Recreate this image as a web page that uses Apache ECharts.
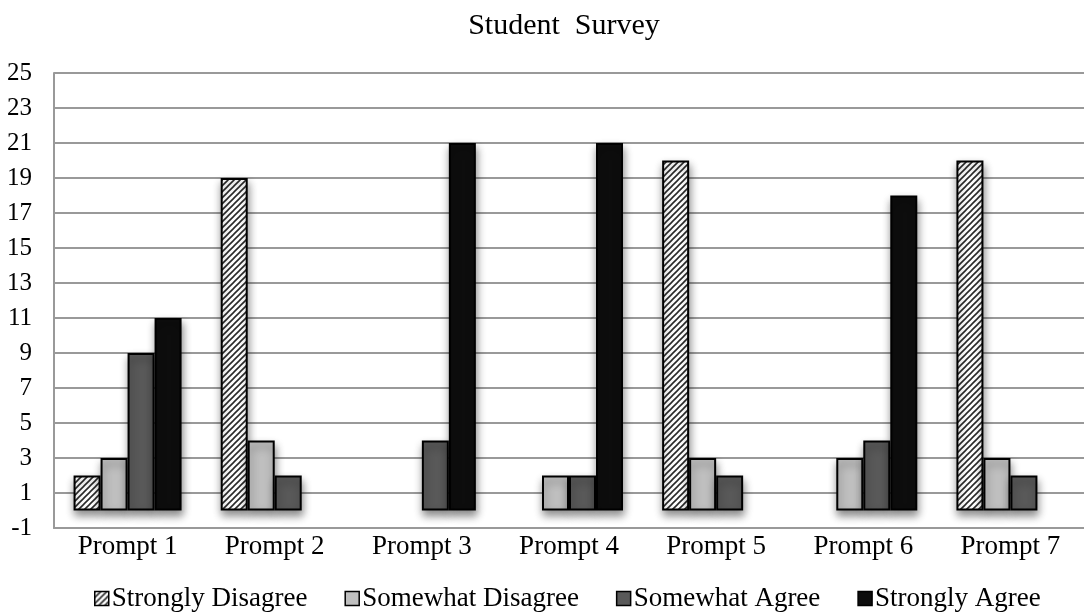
<!DOCTYPE html>
<html>
<head>
<meta charset="utf-8">
<title>Student Survey</title>
<script src="https://cdn.jsdelivr.net/npm/echarts@6/dist/echarts.min.js"></script>
<style>
  html, body { margin: 0; padding: 0; background: #fff; }
  #chart { width: 1084px; height: 613px; }
</style>
</head>
<body>
<div id="chart"></div>
<script>
// Survey responses per prompt
const categories = ['Prompt 1', 'Prompt 2', 'Prompt 3', 'Prompt 4', 'Prompt 5', 'Prompt 6', 'Prompt 7'];
const seriesNames = ['Strongly Disagree', 'Somewhat Disagree', 'Somewhat Agree', 'Strongly Agree'];
const stronglyDisagree = [2, 19, 0, 0, 20, 0, 20];
const somewhatDisagree = [3, 4, 0, 2, 3, 3, 3];
const somewhatAgree    = [9, 2, 4, 2, 2, 4, 2];
const stronglyAgree    = [11, 0, 21, 21, 0, 18, 0];
const yTicks = { min: -1, max: 25, step: 2 };

// Diagonal hatch fill for the "Strongly Disagree" bars
function hatchPattern() {
  const s = 6;
  const c = document.createElement('canvas');
  c.width = s; c.height = s;
  const g = c.getContext('2d');
  g.fillStyle = '#ffffff';
  g.fillRect(0, 0, s, s);
  g.strokeStyle = '#2a2a2a';
  g.lineWidth = 1.6;
  g.beginPath();
  g.moveTo(-1, s + 1); g.lineTo(s + 1, -1);
  g.moveTo(-1, 1); g.lineTo(1, -1);
  g.moveTo(s - 1, s + 1); g.lineTo(s + 1, s - 1);
  g.stroke();
  return c;
}

const fills = [
  { image: hatchPattern(), repeat: 'repeat' },
  '#bfbfbf',
  '#595959',
  '#0d0d0d'
];
const values = [stronglyDisagree, somewhatDisagree, somewhatAgree, stronglyAgree];

const font = '"Liberation Serif", "Times New Roman", serif';

const chart = echarts.init(document.getElementById('chart'), null, { renderer: 'canvas' });

chart.setOption({
  backgroundColor: '#ffffff',
  animation: false,
  title: {
    text: 'Student  Survey',
    left: 559,
    textAlign: 'center',
    top: 6,
    textStyle: { fontFamily: font, fontSize: 30, fontWeight: 'normal', color: '#000' }
  },
  legend: {
    data: seriesNames,
    left: 89,
    top: 580,
    itemWidth: 14,
    itemHeight: 14,
    itemGap: 37,
    icon: 'rect',
    textStyle: { fontFamily: font, fontSize: 27, color: '#000', padding: [0, 0, 0, -2] },
    itemStyle: { shadowBlur: 0, shadowOffsetX: 0, shadowOffsetY: 0, borderWidth: 1.5 }
  },
  grid: { left: 54, top: 73, width: 1036, height: 455, containLabel: false },
  xAxis: {
    type: 'category',
    data: categories,
    axisLine: { onZero: false, lineStyle: { color: '#999', width: 2 } },
    axisTick: { show: false },
    axisLabel: { margin: 5, fontFamily: font, fontSize: 27, color: '#000' }
  },
  yAxis: {
    type: 'value',
    min: yTicks.min,
    max: yTicks.max,
    interval: yTicks.step,
    axisLine: { show: true, lineStyle: { color: '#999', width: 2 } },
    axisTick: { show: false },
    splitLine: { lineStyle: { color: '#999', width: 2 } },
    axisLabel: { margin: 22, fontFamily: font, fontSize: 25, color: '#000' }
  },
  series: seriesNames.map((name, i) => ({
    name: name,
    type: 'bar',
    barWidth: 27,
    barGap: '0%',
    data: values[i].map(v => (v === 0 ? null : v)),
    itemStyle: {
      color: fills[i],
      borderColor: '#000',
      borderWidth: 2,
      shadowColor: 'rgba(0,0,0,0.45)',
      shadowBlur: 8,
      shadowOffsetX: 1,
      shadowOffsetY: 5
    }
  }))
});
</script>
</body>
</html>
